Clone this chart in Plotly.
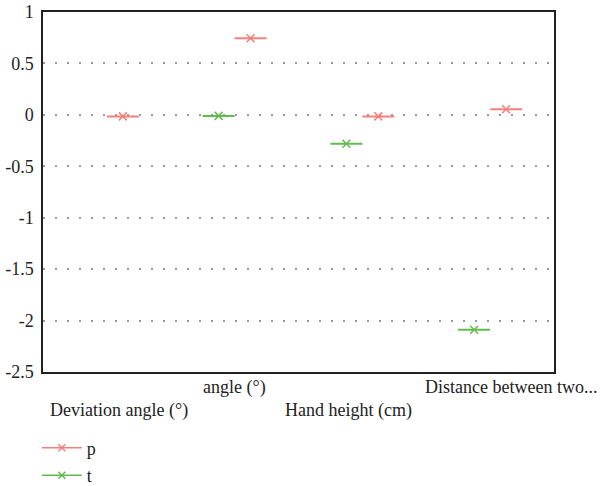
import plotly.graph_objects as go

categories = ["Deviation angle (°)", "angle (°)", "Hand height (cm)", "Distance between two..."]
p_values = [-0.015, 0.745, -0.015, 0.055]
t_values = [None, -0.01, -0.28, -2.09]
y_tickvals = [1, 0.5, 0, -0.5, -1, -1.5, -2, -2.5]
y_ticktext = ["1", "0.5", "0", "-0.5", "-1", "-1.5", "-2", "-2.5"]

P_COLOR = "#f4807c"
T_COLOR = "#62bb4e"
FONT = "Liberation Serif"

idx = list(range(len(categories)))
p_x = [i + 0.125 for i in idx]
t_x = [i - 0.125 for i in idx]

fig = go.Figure()

def add_series(xs, ys, color, name, group):
    fig.add_trace(go.Scatter(
        x=xs, y=ys, mode="markers", showlegend=False, name=name,
        marker=dict(symbol="x-thin", size=8, line=dict(width=1.5, color=color), color=color),
        error_x=dict(type="constant", value=0.125, width=0, thickness=2, color=color),
    ))
    fig.add_trace(go.Scatter(
        x=[None], y=[None], mode="lines+markers", name=name, legendgroup=group,
        line=dict(color=color, width=1.5),
        marker=dict(symbol="x-thin", size=7, line=dict(width=1.5, color=color), color=color),
    ))

add_series(p_x, p_values, P_COLOR, "p", "g1")
add_series(t_x, t_values, T_COLOR, "t", "g2")

label_shift_x = [12, 0, -14, 21]
label_shift_y = [-38, -15, -38, -15]
for i, (cat, sx, sy) in enumerate(zip(categories, label_shift_x, label_shift_y)):
    fig.add_annotation(x=i, y=0, xref="x", yref="paper", text=cat, showarrow=False,
                       xanchor="center", yanchor="middle", xshift=sx, yshift=sy,
                       font=dict(family=FONT, size=18, color="#222"))

fig.update_xaxes(range=[-0.5, 3.5], showticklabels=False, showgrid=False, zeroline=False,
                 showline=True, linecolor="#222", linewidth=1.5, mirror=True, ticks="")
fig.update_yaxes(range=[-2.5, 1], tickvals=y_tickvals, ticktext=y_ticktext,
                 showgrid=True, gridcolor="#999", gridwidth=1.5, griddash="2px,10px",
                 zeroline=False, showline=True, linecolor="#222", linewidth=1.5, mirror=True,
                 ticks="", ticklabelstandoff=4, tickfont=dict(family=FONT, size=18, color="#222"))

fig.update_layout(
    width=600, height=486,
    margin=dict(l=43, r=46, t=12, b=114, autoexpand=False),
    plot_bgcolor="white", paper_bgcolor="white",
    font=dict(family=FONT, size=18, color="#222"),
    showlegend=True,
    legend=dict(orientation="v", x=-0.012, xanchor="left", y=-0.16, yanchor="top",
                itemwidth=40, traceorder="grouped", tracegroupgap=1,
                font=dict(family=FONT, size=18)),
)

fig.write_html("out.html")
